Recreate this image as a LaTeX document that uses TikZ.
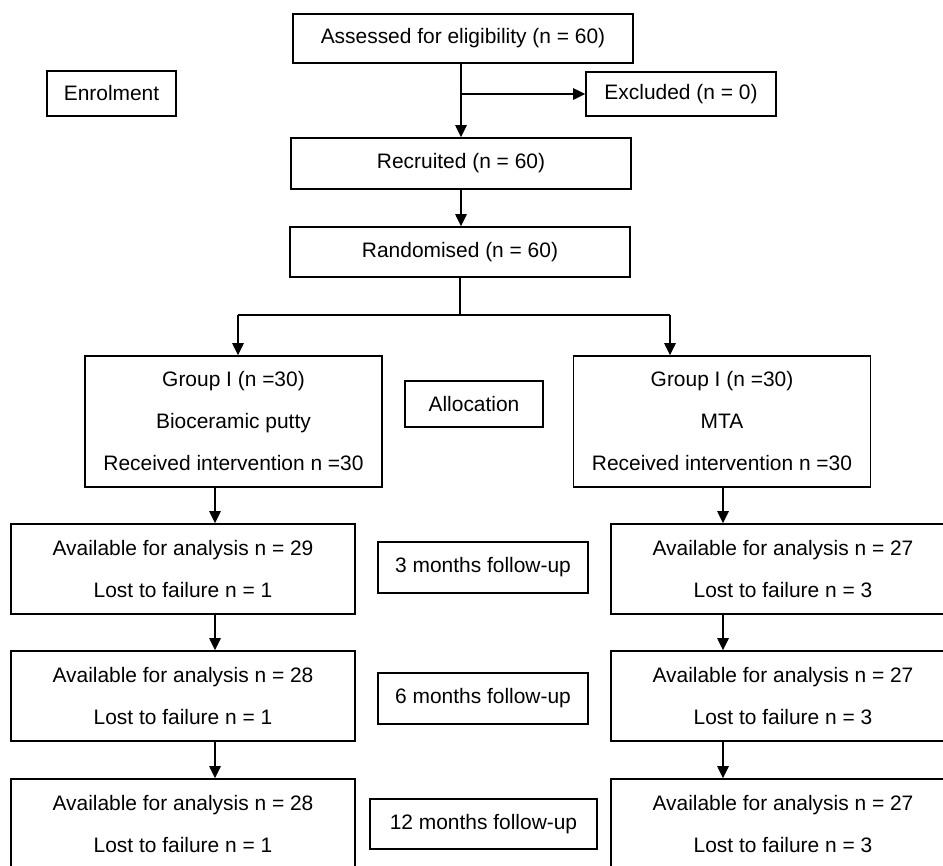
\documentclass[tikz,border=0pt]{standalone}
\usepackage{fontspec}
\setmainfont{Liberation Sans}
\usetikzlibrary{arrows.meta, positioning}

\begin{document}
\begin{tikzpicture}[x=0.75pt, y=-0.75pt,
    box/.style={draw, line width=1.2pt, inner sep=0pt, align=center,
        font=\fontsize{15.7}{31.5}\selectfont},
    flow/.style={-{Triangle[length=9pt, width=8.5pt]}, line width=1.2pt}]

    % =================================================================
    % 1. FRAME OF THE PICTURE
    % =================================================================
    \clip (0,0) rectangle (943,865);

    % =================================================================
    % 2. ENROLMENT BOXES
    % =================================================================
    \node[box, minimum width=255pt, minimum height=36.75pt] (assess) at (463,38.5) {Assessed for eligibility (n = 60)};
    \node[box, minimum width=96.75pt, minimum height=33.75pt] (enrol) at (111.5,93.5) {Enrolment};
    \node[box, minimum width=142.5pt, minimum height=33pt] (excl) at (681,94) {Excluded (n = 0)};
    \node[box, minimum width=255pt, minimum height=38.25pt] (recruit) at (461,163.5) {Recruited (n = 60)};
    \node[box, minimum width=255pt, minimum height=37.5pt] (random) at (460,252) {Randomised (n = 60)};

    % =================================================================
    % 3. ALLOCATION BOXES
    % =================================================================
    \node[box, minimum width=222.75pt, minimum height=98.25pt] (groupL) at (233.5,421.5)
        {Group I (n =30)\\Bioceramic putty\\Received intervention n =30};
    \node[box, minimum width=222.75pt, minimum height=98.25pt] (groupR) at (722,421.5)
        {Group I (n =30)\\MTA\\Received intervention n =30};
    \node[box, minimum width=103.5pt, minimum height=34.5pt] (alloc) at (474,404) {Allocation};

    % =================================================================
    % 4. FOLLOW-UP BOXES
    % =================================================================
    \node[box, minimum width=258pt, minimum height=67.5pt] (availLa) at (183,569)
        {Available for analysis n = 29\\Lost to failure n = 1};
    \node[box, minimum width=258pt, minimum height=67.5pt] (availRa) at (783,569)
        {Available for analysis n = 27\\Lost to failure n = 3};
    \node[box, minimum width=157.5pt, minimum height=38.25pt] (monthA) at (483,567.5) {3 months follow-up};

    \node[box, minimum width=258pt, minimum height=67.5pt] (availLb) at (183,696)
        {Available for analysis n = 28\\Lost to failure n = 1};
    \node[box, minimum width=258pt, minimum height=67.5pt] (availRb) at (783,696)
        {Available for analysis n = 27\\Lost to failure n = 3};
    \node[box, minimum width=157.5pt, minimum height=38.25pt] (monthB) at (483,698.5) {6 months follow-up};

    \node[box, minimum width=258pt, minimum height=67.5pt] (availLc) at (183,824)
        {Available for analysis n = 28\\Lost to failure n = 1};
    \node[box, minimum width=258pt, minimum height=67.5pt] (availRc) at (783,824)
        {Available for analysis n = 27\\Lost to failure n = 3};
    \node[box, minimum width=170.25pt, minimum height=37.5pt] (monthC) at (483.5,824) {12 months follow-up};

    % =================================================================
    % 5. CONNECTORS
    % =================================================================
    \coordinate (split) at (recruit.north |- excl.west);
    \draw[flow] (assess.south -| recruit.north) -- (recruit.north);
    \draw[flow] (split) -- (excl.west);
    \draw[flow] (recruit.south) -- (recruit.south |- random.north);

    \coordinate (forkL) at (238,315);
    \coordinate (forkR) at (670,315);
    \draw[line width=1.2pt] (random.south) -- (random.south |- forkL);
    \draw[line width=1.2pt] (forkL) -- (forkR);
    \draw[flow] (forkL) -- (forkL |- groupL.north);
    \draw[flow] (forkR) -- (forkR |- groupR.north);

    % left column
    \coordinate (dropL) at (215,0);
    \draw[flow] (groupL.south -| dropL) -- (availLa.north -| dropL);
    \draw[flow] (availLa.south -| dropL) -- (availLb.north -| dropL);
    \draw[flow] (availLb.south -| dropL) -- (availLc.north -| dropL);

    % right column
    \coordinate (dropR) at (723,0);
    \draw[flow] (groupR.south -| dropR) -- (availRa.north -| dropR);
    \draw[flow] (availRa.south -| dropR) -- (availRb.north -| dropR);
    \draw[flow] (availRb.south -| dropR) -- (availRc.north -| dropR);

\end{tikzpicture}
\end{document}
